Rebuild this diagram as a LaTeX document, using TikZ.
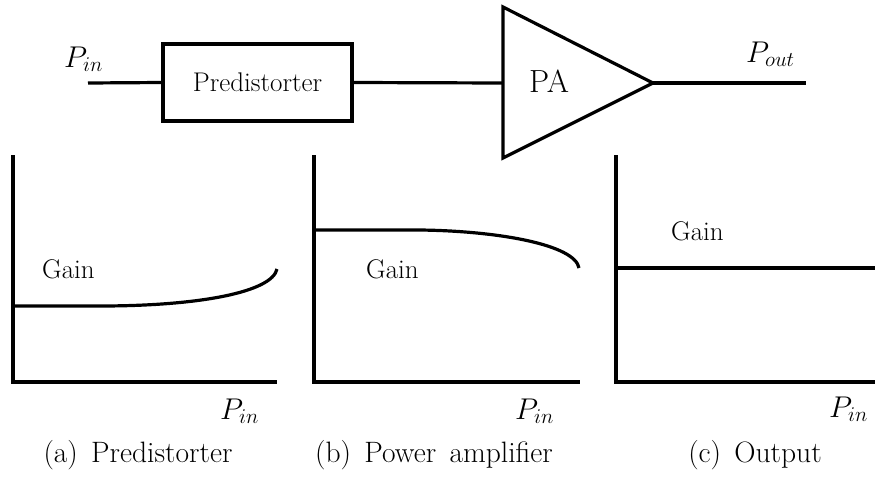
\RequirePackage{fix-cm}
\documentclass[tikz,border=0pt]{standalone}
\begin{document}
\begin{tikzpicture}[x=1pt,y=-1pt,
  wire/.style={line width=3.2pt},
  blockbox/.style={draw,line width=3.2pt,minimum width=189pt,minimum height=77pt,inner sep=0pt,
    font=\fontsize{27}{32}\selectfont},
  lbl/.style={inner sep=0pt,anchor=base west,font=\fontsize{27}{32}\selectfont},
  mlbl/.style={inner sep=0pt,anchor=base west,font=\fontsize{30}{36}\selectfont},
  subcaption/.style={inner sep=0pt,anchor=base,font=\fontsize{29.5}{35}\selectfont}]
\useasboundingbox (0,0) rectangle (875,477);

% ---- signal chain ----
\coordinate (in) at (88,83);
\node[blockbox] (pd) at (257.5,82.5) {Predistorter};
\coordinate (paT) at (503,7);
\coordinate (paB) at (503,158);
\coordinate (paI) at (503,83);
\coordinate (paO) at (653,83);
\coordinate (out) at (806,83);
\draw[wire,line join=miter] (paT) -- (paO) -- (paB) -- cycle;
\node[inner sep=0pt,font=\fontsize{32}{38}\selectfont] (pa) at (549,81) {PA};
\draw[wire] (in) -- (pd.west);
\draw[wire] (pd.east) -- (paI);
\draw[wire] (paO) -- (out);
\node[mlbl] (pinTop) at (64,67) {$P_{in}$};
\node[mlbl] (pout) at (746,62) {$P_{out}$};

% ---- (a) predistorter gain ----
\coordinate (aTop) at (13,155);
\coordinate (aO) at (13,382);
\coordinate (aX) at (277,382);
\draw[wire,line join=miter] (aTop) -- (aO) -- (aX);
\coordinate (aS) at (13,306);
\coordinate (aE) at (277,269);
\draw[wire] (aS) -- (100,306) .. controls (200,306) and (272,292) .. (aE);
\node[lbl] (aGain) at (42,278) {Gain};
\node[mlbl] (aPin) at (220,419) {$P_{in}$};
\node[subcaption] (aCap) at (138,462) {(a)\hspace{0.45em}Predistorter};

% ---- (b) power amplifier gain ----
\coordinate (bTop) at (314,155);
\coordinate (bO) at (314,382);
\coordinate (bX) at (580,382);
\draw[wire,line join=miter] (bTop) -- (bO) -- (bX);
\coordinate (bS) at (314,230);
\coordinate (bE) at (579,268);
\draw[wire] (bS) -- (420,230) .. controls (500,231) and (575,245) .. (bE);
\node[lbl] (bGain) at (366,278) {Gain};
\node[mlbl] (bPin) at (515,419) {$P_{in}$};
\node[subcaption] (bCap) at (434,462) {(b)\hspace{0.45em}Power\hspace{0.45em}amplifier};

% ---- (c) overall output gain ----
\coordinate (cTop) at (616,155);
\coordinate (cO) at (616,382);
\coordinate (cX) at (875,382);
\draw[wire,line join=miter] (cTop) -- (cO) -- (cX);
\coordinate (cS) at (616,268);
\coordinate (cE) at (875,268);
\draw[wire] (cS) -- (cE);
\node[lbl] (cGain) at (671,240) {Gain};
\node[mlbl] (cPin) at (829,417) {$P_{in}$};
\node[subcaption] (cCap) at (755,462) {(c)\hspace{0.45em}Output};
\end{tikzpicture}
\end{document}
